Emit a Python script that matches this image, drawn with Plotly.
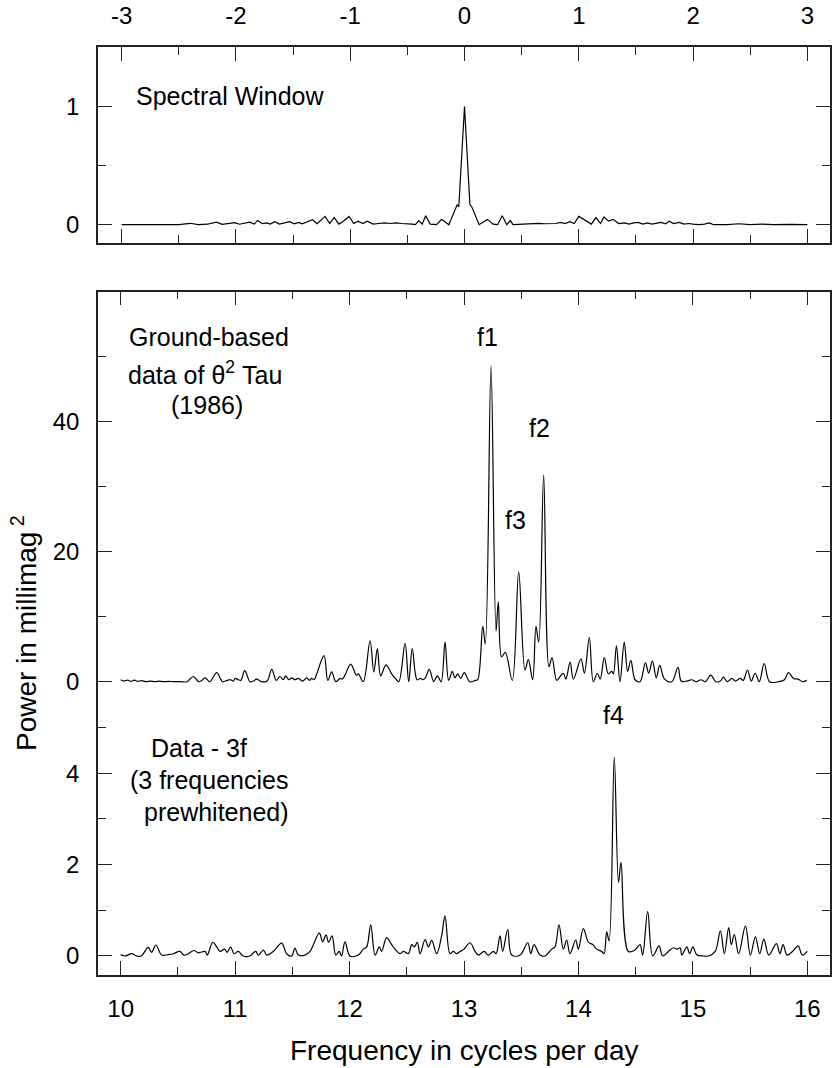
import plotly.graph_objects as go

# ---------------- data ----------------
# Spectral window (top panel)
sw_freq = [-3.00, -2.80, -2.60, -2.50, -2.40, -2.33, -2.25, -2.17, -2.12, -2.05, -2.01, -1.97, -1.92,
           -1.88, -1.84, -1.81, -1.77, -1.73, -1.70, -1.66, -1.62, -1.58, -1.53, -1.49, -1.45, -1.42,
           -1.37, -1.33, -1.29, -1.25, -1.22, -1.18, -1.14, -1.10, -1.06, -1.01, -0.97, -0.93, -0.89,
           -0.85, -0.80, -0.75, -0.70, -0.65, -0.60, -0.55, -0.50, -0.46, -0.43, -0.40, -0.37, -0.34,
           -0.30, -0.245, -0.20, -0.137, -0.064, -0.05, 0.00, 0.047, 0.064, 0.128, 0.20, 0.25, 0.29,
           0.33, 0.37, 0.40, 0.425, 0.50, 0.55, 0.60, 0.65, 0.70, 0.75, 0.80, 0.84, 0.88, 0.92, 0.96,
           1.00, 1.05, 1.11, 1.15, 1.19, 1.22, 1.26, 1.30, 1.35, 1.40, 1.44, 1.48, 1.52, 1.56, 1.60,
           1.64, 1.68, 1.72, 1.76, 1.79, 1.83, 1.88, 1.92, 1.96, 2.00, 2.05, 2.10, 2.14, 2.18, 2.30,
           2.40, 2.50, 2.60, 2.70, 2.85, 3.00]
sw_power = [0.0, 0.0, 0.004, 0.0, 0.012, 0.0, 0.004, 0.022, 0.003, 0.01, 0.018, 0.004, 0.012,
            0.022, 0.005, 0.036, 0.01, 0.015, 0.005, 0.025, 0.005, 0.015, 0.025, 0.008, 0.02, 0.008,
            0.03, 0.042, 0.008, 0.04, 0.07, 0.01, 0.06, 0.005, 0.03, 0.07, 0.01, 0.03, 0.01,
            0.03, 0.005, 0.01, 0.015, 0.01, 0.015, 0.01, 0.01, 0.005, 0.0, 0.035, 0.005, 0.076,
            0.005, 0.0, 0.045, 0.0, 0.17, 0.15, 1.0, 0.17, 0.15, 0.0, 0.045, 0.005, 0.0,
            0.076, 0.0, 0.035, 0.0, 0.005, 0.01, 0.008, 0.012, 0.008, 0.012, 0.01, 0.02, 0.01, 0.025, 0.01,
            0.07, 0.04, 0.005, 0.06, 0.01, 0.065, 0.03, 0.045, 0.01, 0.015, 0.005, 0.015, 0.02, 0.005, 0.015,
            0.005, 0.012, 0.02, 0.008, 0.03, 0.01, 0.02, 0.005, 0.01, 0.005, 0.0, 0.005, 0.015, 0.0, 0.0,
            0.008, 0.0, 0.005, 0.0, 0.003, 0.0]

# Ground-based data of theta2 Tau (1986)
gb_freq = [10.00, 10.03, 10.06, 10.09, 10.12, 10.15, 10.18, 10.22, 10.26, 10.30, 10.34, 10.37, 10.42,
           10.46, 10.52, 10.58, 10.635, 10.68, 10.71, 10.737, 10.78, 10.839, 10.89, 10.93, 10.96,
           10.984, 11.00, 11.028, 11.05, 11.084, 11.13, 11.16, 11.188, 11.23, 11.28, 11.32, 11.36,
           11.392, 11.42, 11.442, 11.47, 11.494, 11.52, 11.552, 11.59, 11.625, 11.65, 11.669, 11.69,
           11.713, 11.777, 11.81, 11.844, 11.88, 11.917, 11.935, 11.96, 12.01, 12.06, 12.077, 12.12,
           12.179, 12.212, 12.243, 12.272, 12.318, 12.368, 12.40, 12.43, 12.485, 12.517, 12.548,
           12.59, 12.62, 12.64, 12.66, 12.697, 12.735, 12.767, 12.80, 12.834, 12.866, 12.898, 12.92,
           12.945, 12.97, 13.003, 13.05, 13.10, 13.12, 13.164, 13.186, 13.236, 13.280, 13.300, 13.329,
           13.361, 13.422, 13.478, 13.533, 13.562, 13.600, 13.629, 13.653, 13.696, 13.743, 13.769,
           13.810, 13.84, 13.868, 13.89, 13.927, 13.956, 14.022, 14.052, 14.095, 14.130, 14.165,
           14.19, 14.226, 14.261, 14.29, 14.305, 14.332, 14.363, 14.400, 14.43, 14.458, 14.495,
           14.538, 14.585, 14.614, 14.646, 14.68, 14.71, 14.752, 14.816, 14.87, 14.898, 14.947,
           14.99, 15.03, 15.07, 15.11, 15.156, 15.20, 15.24, 15.267, 15.30, 15.34, 15.37, 15.413,
           15.44, 15.477, 15.51, 15.544, 15.58, 15.623, 15.67, 15.75, 15.80, 15.835, 15.88, 15.92,
           15.96, 15.995]
gb_power = [0.3, 0.1, 0.25, 0.05, 0.25, 0.05, 0.15, 0.0, 0.1, 0.0, 0.1, 0.0, 0.05,
            0.0, 0.0, 0.0, 0.8, 0.0, 0.2, 0.6, 0.0, 1.4, 0.0, 0.2, 0.3,
            0.1, 0.5, 0.3, 0.2, 1.7, 0.0, 0.1, 0.4, 0.0, 0.1, 1.9, 0.2,
            0.8, 0.3, 0.9, 0.3, 0.6, 0.3, 0.5, 0.1, 0.6, 0.2, 0.5, 0.3,
            1.2, 4.0, 0.2, 1.5, 0.0, 0.5, 0.4, 1.0, 2.7, 1.0, 1.2, 0.0,
            6.3, 1.5, 5.1, 0.9, 2.6, 1.2, 0.5, 0.0, 5.9, 0.0, 5.1,
            0.3, 0.5, 0.3, 0.5, 1.9, 0.0, 0.9, 0.0, 6.1, 0.2, 1.6, 0.6,
            1.2, 0.5, 1.4, 0.0, 0.2, 0.3, 8.5, 5.8, 48.6, 7.8, 12.3, 3.8,
            4.5, 0.2, 16.9, 1.8, 3.4, 0.3, 8.5, 6.1, 31.8, 2.3, 3.7,
            0.2, 0.8, 1.3, 0.4, 3.0, 0.4, 3.5, 1.3, 6.8, 0.0, 1.3,
            0.4, 3.7, 1.2, 1.6, 1.2, 5.5, 0.0, 6.1, 1.6, 3.3, 0.3,
            0.0, 2.9, 1.3, 3.2, 0.6, 2.5, 0.4, 0.0, 2.2, 0.1, 0.1,
            0.3, 0.0, 0.3, 0.0, 1.0, 0.0, 0.1, 0.7, 0.0, 0.5, 0.1, 0.5,
            0.2, 1.8, 0.1, 1.3, 0.0, 2.8, 0.0, 0.0, 0.3, 1.4, 0.5, 0.4,
            0.0, 0.2]

# Data - 3f (3 frequencies prewhitened)
pw_freq = [10.00, 10.038, 10.096, 10.14, 10.18, 10.241, 10.27, 10.308, 10.358, 10.416, 10.46, 10.518,
           10.553, 10.591, 10.64, 10.68, 10.737, 10.757, 10.804, 10.839, 10.868, 10.91, 10.93, 10.961,
           10.99, 11.028, 11.072, 11.13, 11.18, 11.203, 11.247, 11.276, 11.334, 11.407, 11.45, 11.494,
           11.523, 11.552, 11.61, 11.654, 11.736, 11.765, 11.794, 11.817, 11.847, 11.88, 11.91, 11.93,
           11.96, 12.004, 12.077, 12.12, 12.15, 12.185, 12.223, 12.26, 12.28, 12.324, 12.368, 12.397,
           12.441, 12.47, 12.514, 12.543, 12.566, 12.592, 12.616, 12.66, 12.689, 12.718, 12.761, 12.805,
           12.834, 12.878, 12.907, 12.936, 12.965, 13.0, 13.053, 13.097, 13.126, 13.176, 13.213, 13.257,
           13.28, 13.315, 13.338, 13.382, 13.417, 13.49, 13.557, 13.583, 13.612, 13.665, 13.708, 13.766,
           13.795, 13.83, 13.868, 13.897, 13.926, 13.976, 13.999, 14.043, 14.087, 14.125, 14.16, 14.203,
           14.224, 14.247, 14.268, 14.313, 14.35, 14.372, 14.436, 14.494, 14.538, 14.561, 14.605,
           14.649, 14.704, 14.736, 14.786, 14.83, 14.86, 14.889, 14.903, 14.947, 14.971, 15.0, 15.035,
           15.093, 15.137, 15.195, 15.24, 15.275, 15.313, 15.336, 15.362, 15.4, 15.459, 15.502, 15.546,
           15.584, 15.62, 15.663, 15.73, 15.76, 15.788, 15.823, 15.87, 15.92, 15.955, 15.999]
pw_power = [0.03, 0.0, 0.05, 0.0, 0.0, 0.19, 0.08, 0.24, 0.02, 0.03, 0.05, 0.1,
            0.02, 0.05, 0.12, 0.07, 0.1, 0.02, 0.3, 0.2, 0.1, 0.15, 0.08, 0.2,
            0.05, 0.1, 0.0, 0.0, 0.1, 0.02, 0.13, 0.02, 0.1, 0.28, 0.05, 0.0,
            0.17, 0.02, 0.02, 0.1, 0.5, 0.31, 0.46, 0.3, 0.44, 0.02, 0.1, 0.0,
            0.31, 0.0, 0.02, 0.15, 0.2, 0.68, 0.02, 0.2, 0.1, 0.4, 0.25, 0.15,
            0.05, 0.1, 0.05, 0.25, 0.2, 0.3, 0.05, 0.36, 0.2, 0.34, 0.05, 0.45,
            0.88, 0.05, 0.1, 0.05, 0.1, 0.15, 0.29, 0.1, 0.02, 0.1, 0.02, 0.1,
            0.05, 0.44, 0.1, 0.58, 0.02, 0.02, 0.29, 0.05, 0.25, 0.02, 0.0, 0.15,
            0.2, 0.68, 0.15, 0.35, 0.05, 0.35, 0.15, 0.6, 0.3, 0.25, 0.15, 0.1,
            0.05, 0.53, 0.33, 4.35, 1.61, 2.05, 0.1, 0.13, 0.25, 0.02, 0.97,
            0.0, 0.22, 0.0, 0.1, 0.18, 0.15, 0.18, 0.02, 0.2, 0.05, 0.2, 0.02,
            0.0, 0.0, 0.1, 0.55, 0.05, 0.62, 0.25, 0.47, 0.05, 0.66, 0.02, 0.42,
            0.05, 0.37, 0.02, 0.27, 0.05, 0.25, 0.02, 0.1, 0.22, 0.02, 0.1]

# tick labels
top_ticks = [-3, -2, -1, 0, 1, 2, 3]
bottom_ticks = [10, 11, 12, 13, 14, 15, 16]

# ---------------- figure ----------------
W, H = 832, 1068
FONT = "Liberation Sans, Arial, sans-serif"
AX = "#222222"


def px(x):
    return x / W


def py(y):
    return 1 - y / H


fig = go.Figure()
fig.add_trace(go.Scatter(x=sw_freq, y=sw_power, mode="lines", line=dict(color="black", width=1.2),
                         xaxis="x", yaxis="y", hoverinfo="skip"))
fig.add_trace(go.Scatter(x=gb_freq, y=gb_power, mode="lines",
                         line=dict(color="black", width=1.2, shape="spline", smoothing=1.0),
                         xaxis="x2", yaxis="y2", hoverinfo="skip"))
fig.add_trace(go.Scatter(x=pw_freq, y=pw_power, mode="lines",
                         line=dict(color="black", width=1.2, shape="spline", smoothing=1.0),
                         xaxis="x2", yaxis="y3", hoverinfo="skip"))

common = dict(showline=True, linecolor=AX, linewidth=1.5, ticks="inside", ticklen=14, tickwidth=1.2,
              tickcolor=AX, mirror="ticks", showgrid=False, zeroline=False,
              tickfont=dict(family=FONT, size=24, color="black"))
minor = dict(ticks="inside", ticklen=8, tickwidth=1.2, tickcolor=AX, showgrid=False)

XDOM = [px(98), px(830)]

fig.update_layout(
    width=W, height=H, margin=dict(l=0, r=0, t=0, b=0),
    paper_bgcolor="white", plot_bgcolor="white", showlegend=False,
    xaxis=dict(domain=XDOM, anchor="y", range=[-3.207, 3.198], side="top",
               tickvals=top_ticks, ticktext=[str(t) for t in top_ticks],
               minor=dict(dtick=0.5, tick0=0, **minor), ticklabelstandoff=12, **common),
    yaxis=dict(domain=[py(243), py(47.3)], anchor="x", range=[-0.155, 1.502],
               tickvals=[0, 1], ticktext=["0", "1"], minor=dict(tickvals=[0.5], **minor),
               ticklabelstandoff=12, **common),
    xaxis2=dict(domain=XDOM, anchor="y2", range=[9.802, 16.198],
                tickvals=bottom_ticks, ticktext=[str(t) for t in bottom_ticks],
                minor=dict(dtick=0.5, tick0=0, **minor), ticklabelstandoff=12, **common),
    yaxis2=dict(domain=[py(974.5), py(291.7)], anchor="x2", range=[-45.05, 60.0],
                tickvals=[0, 20, 40], ticktext=["0", "20", "40"],
                minor=dict(tickvals=[10, 30, 50], **minor), ticklabelstandoff=12, **common),
    yaxis3=dict(overlaying="y2", anchor="x2", side="left", range=[-0.405, 14.536],
                tickvals=[0, 2, 4], ticktext=["0", "2", "4"],
                minor=dict(tickvals=[1, 3, 5], **minor), ticklabelstandoff=12, **common),
)

anns = [
    ("Spectral Window", 230, 95.7, 25),
    ("Ground-based", 208.5, 336.7, 25),
    ("data of θ<sup>2</sup> Tau", 205, 373.3, 25),
    ("(1986)", 206.7, 405, 25),
    ("f1", 487.8, 336.7, 25),
    ("f2", 539.7, 428.3, 25),
    ("f3", 515.5, 520, 25),
    ("f4", 613.7, 715, 25),
    ("Data - 3f", 198.7, 748.3, 25),
    ("(3 frequencies", 209.3, 780, 25),
    ("prewhitened)", 216.3, 811.7, 25),
    ("Frequency in cycles per day", 464, 1050, 28),
]
for text, x, y, size in anns:
    fig.add_annotation(text=text, x=px(x), y=py(y), xref="paper", yref="paper",
                       xanchor="center", yanchor="middle", showarrow=False,
                       font=dict(family=FONT, size=size, color="black"))

fig.add_annotation(text="Power in millimag<sup> 2</sup>", x=px(24), y=py(633), xref="paper", yref="paper",
                   xanchor="center", yanchor="middle", showarrow=False, textangle=-90,
                   font=dict(family=FONT, size=28, color="black"))

fig.write_html("out.html", config={"displayModeBar": False},
               post_script="document.body.style.margin='0';document.body.style.overflow='hidden';")
